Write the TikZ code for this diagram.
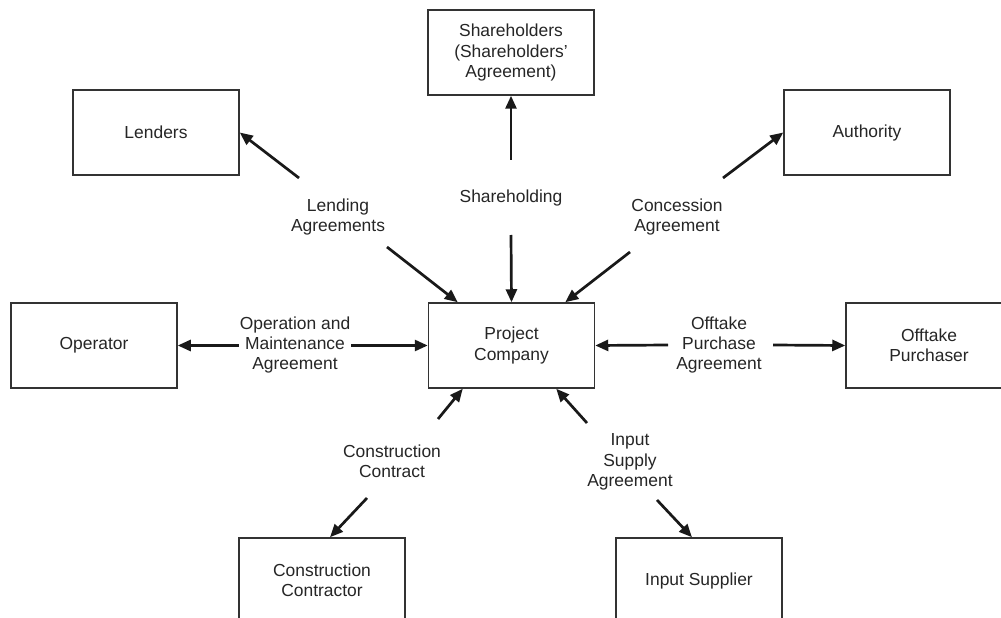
\documentclass[tikz,border=0pt]{standalone}
\usepackage{fontspec}
\setmainfont{Liberation Sans}
\usetikzlibrary{arrows.meta,calc}
\newcommand\dgfont{\fontsize{17.5}{20.5}\selectfont}
\begin{document}
\begin{tikzpicture}[x=1bp,y=-1bp,
  box/.style={draw=black!80,line width=1.5bp,minimum width=166bp,minimum height=85bp,
    align=center,inner sep=0pt,font=\dgfont,text=black!85},
  lbl/.style={align=center,font=\dgfont,inner sep=1bp,text=black!85},
  conn/.style={line width=2.7bp,draw=black!90,-{Triangle[length=13bp,width=11bp]}},
  dconn/.style={line width=2.7bp,draw=black!90,{Triangle[length=13bp,width=11bp]}-{Triangle[length=13bp,width=11bp]}}]
\clip (0,0) rectangle (1001,618);
\fill[white] (0,0) rectangle (1001,618);
% boxes
\node[box] (sh) at (511,52.5) {Shareholders\\(Shareholders'\\Agreement)};
\node[box] (lend) at (156,132.5) {Lenders};
\node[box] (auth) at (867,132.5) {Authority};
\node[box] (op) at (94,345.5) {Operator};
\node[box] (pc) at (511.5,345.5) {Project\\Company};
\node[box] (off) at (929,345.5) {Offtake\\Purchaser};
\node[box] (cc) at (322,580.5) {Construction\\Contractor};
\node[box] (is) at (699,580.5) {Input Supplier};
% labels
\node[lbl] (lendl) at (338,217) {Lending\\Agreements};
\node[lbl] (shl) at (511,198) {Shareholding};
\node[lbl] (conl) at (677,217) {Concession\\Agreement};
\node[lbl] (offl) at (719,345) {Offtake\\Purchase\\Agreement};
\node[lbl] (ccl) at (392,461) {Construction\\Contract};
\node[lbl] (isl) at (630,462) {Input\\Supply\\Agreement};
% free ends
\coordinate (t1) at (299,178);
\coordinate (t2) at (387,247);
\coordinate (t3) at (511,160);
\coordinate (t4) at (511,235);
\coordinate (t5) at (723,178);
\coordinate (t6) at (630,252);
\coordinate (t7) at (668,345);
\coordinate (t8) at (773,345);
\coordinate (t9) at (438,419);
\coordinate (t10) at (367,498);
\coordinate (t11) at (587,423);
\coordinate (t12) at (657,500);
% connectors
\draw[conn] (t1) -- (lend.east);
\draw[conn] (t2) -- ([xshift=30bp]pc.north west);
\draw[conn] (t3) -- (sh.south);
\draw[conn] (t4) -- (pc.north);
\draw[conn] (t5) -- (auth.west);
\draw[conn] (t6) -- ([xshift=-30bp]pc.north east);
\draw[dconn] (op.east) -- (pc.west);
\node[lbl,fill=white,inner sep=0.5bp] (oml) at (295,345) {Operation and\\Maintenance\\Agreement};
\draw[conn] (t7) -- (pc.east);
\draw[conn] (t8) -- (off.west);
\draw[conn] (t9) -- ([xshift=35bp]pc.south west);
\draw[conn] (t10) -- ([xshift=8bp]cc.north);
\draw[conn] (t11) -- ([xshift=-39bp]pc.south east);
\draw[conn] (t12) -- ([xshift=-7bp]is.north);
\end{tikzpicture}
\end{document}
